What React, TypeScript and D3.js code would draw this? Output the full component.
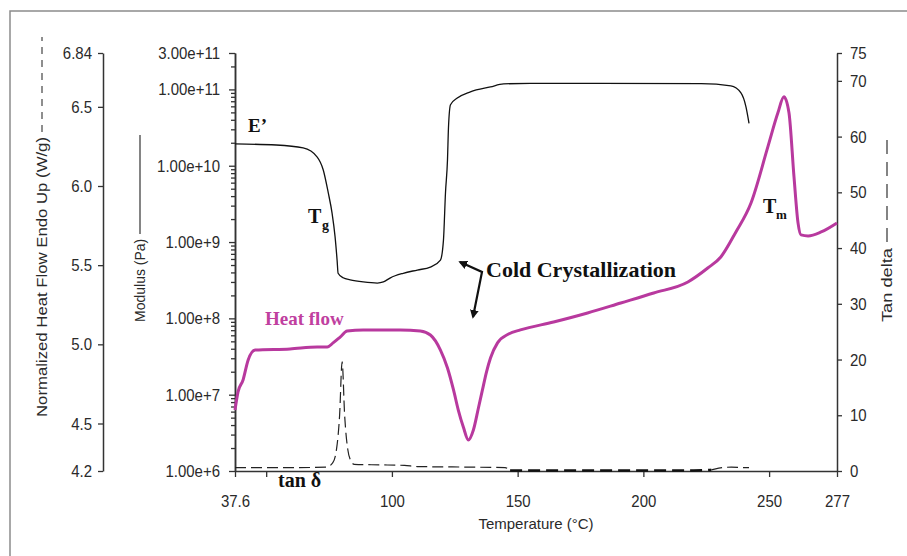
import React, { useEffect, useRef } from 'react';
import * as d3 from 'd3';

// storage modulus E' (Pa) vs temperature (°C)
const modTemp = [37.6, 54, 64.7, 70.3, 72.7, 74.7, 76.2, 77.4, 78.2, 78.6, 80.6, 83.4, 88.6, 94.2, 96.6, 99.4, 104.5, 110.1, 115.3, 119.3, 120.5, 121.3, 122.1, 122.5, 123.3, 126, 131.2, 139.2, 144.4, 155, 183, 223, 234.8, 238.8, 240.8, 242];
const modulus = [1.93e10, 1.87e10, 1.71e10, 1.3e10, 8.8e9, 4.4e9, 2.4e9, 1.17e9, 5.8e8, 3.9e8, 3.4e8, 3.2e8, 3.0e8, 2.9e8, 3.0e8, 3.4e8, 3.9e8, 4.3e8, 4.7e8, 5.8e8, 1.06e9, 4.4e9, 1.19e10, 3.2e10, 6.3e10, 7.7e10, 9.3e10, 1.08e11, 1.18e11, 1.2e11, 1.2e11, 1.19e11, 1.11e11, 9.0e10, 5.9e10, 3.6e10];

// normalized heat flow (W/g)
const heatTemp = [37.6, 38.8, 40.8, 42.8, 45.6, 59.5, 70.3, 74.3, 76.6, 79.4, 82.2, 88.6, 103.3, 111.3, 115.3, 119.3, 122.1, 124.5, 126.4, 128.4, 130.4, 132.4, 134.4, 136, 137.6, 139.2, 142, 146.4, 151.1, 164.3, 177.8, 191, 204.1, 217.7, 225.6, 230.8, 236.8, 242.8, 249.5, 253.5, 255.9, 257.9, 259.9, 261.5, 262.7, 265.5, 270.7, 277];
const heatFlow = [4.585, 4.7, 4.775, 4.9, 4.964, 4.971, 4.983, 4.983, 5.009, 5.046, 5.084, 5.091, 5.091, 5.084, 5.059, 4.964, 4.851, 4.712, 4.585, 4.478, 4.396, 4.459, 4.598, 4.712, 4.825, 4.914, 5.009, 5.065, 5.091, 5.141, 5.198, 5.261, 5.324, 5.394, 5.482, 5.552, 5.71, 5.893, 6.247, 6.462, 6.563, 6.462, 6.057, 5.767, 5.691, 5.685, 5.71, 5.767];

// tan delta
const tanTemp = [37.6, 60, 74, 76.5, 78, 79.2, 80.2, 81.2, 82.4, 83.5, 85, 95, 105, 110, 130, 145, 147, 160, 180, 200, 220, 227, 230, 235, 240, 242];
const tanDelta = [0.6, 0.6, 0.7, 1.5, 4, 10, 19.6, 10, 4, 2, 1.2, 1.1, 1.0, 0.8, 0.7, 0.6, 0.1, 0.1, 0.1, 0.1, 0.1, 0.2, 0.5, 0.7, 0.6, 0.6];

const xTicks = [37.6, 50, 100, 150, 200, 250, 277];
const heatTicks = [4.2, 4.5, 5.0, 5.5, 6.0, 6.5, 6.84];
const modMajor = [1e6, 1e7, 1e8, 1e9, 1e10, 1e11, 3e11];
const tanTicks = [0, 10, 20, 30, 40, 50, 60, 70, 75];

const sans = '"Liberation Sans", Arial, sans-serif';
const serif = '"Liberation Serif", "Times New Roman", serif';
const magenta = '#b8399e';

const App = () => {
  const chartRef = useRef(null);

  useEffect(() => {
    const width = 907, height = 556;
    const left = 235, right = 837, top = 53, bottom = 471;
    const svg = d3.select(chartRef.current);
    svg.selectAll('*').remove();
    svg.attr('width', width).attr('height', height);

    const x = d3.scaleLinear().domain([37.6, 277]).range([left, right]);
    const yMod = d3.scaleLog().domain([1e6, 3e11]).range([bottom, top]);
    const yHeat = d3.scaleLinear().domain([4.2, 6.84]).range([bottom, top]);
    const yTan = d3.scaleLinear().domain([0, 75]).range([bottom, top]);

    // frame (left + top only)
    svg.append('path')
      .attr('d', `M10,${height}V11H${width}`)
      .attr('fill', 'none').attr('stroke', '#8c8c8c').attr('stroke-width', 1.5);

    const styleAxis = (g) => {
      g.select('.domain').attr('stroke', '#333').attr('stroke-width', 1.5);
      g.selectAll('.tick line').attr('stroke', '#333').attr('stroke-width', 1.3);
      g.selectAll('text')
        .attr('font-family', sans).attr('font-size', 15).attr('fill', '#2a2a2a')
        .attr('transform', 'scale(1,1.15)');
    };

    // heat flow axis (far left)
    svg.append('g').attr('transform', 'translate(103,0)')
      .call(d3.axisLeft(yHeat).tickValues(heatTicks).tickSize(5).tickSizeOuter(0).tickPadding(6)
        .tickFormat(d => (d === 6.84 ? '6.84' : d.toFixed(1))))
      .call(styleAxis);

    // modulus axis, minor ticks then major
    const minor = [];
    for (let e = 6; e <= 11; e++) for (let k = 2; k <= 9; k++) if (k * 10 ** e < 3e11) minor.push(k * 10 ** e);
    svg.append('g').attr('transform', `translate(${left},0)`)
      .call(d3.axisLeft(yMod).tickValues(minor).tickSize(4).tickSizeOuter(0).tickFormat(() => ''))
      .call(styleAxis);
    svg.append('g').attr('transform', `translate(${left},0)`)
      .call(d3.axisLeft(yMod).tickValues(modMajor).tickSize(6).tickSizeOuter(0).tickPadding(9)
        .tickFormat(d => d.toExponential(2)))
      .call(styleAxis);

    // tan delta axis (right)
    svg.append('g').attr('transform', `translate(${right},0)`)
      .call(d3.axisRight(yTan).tickValues(tanTicks).tickSize(5).tickSizeOuter(0).tickPadding(8))
      .call(styleAxis);

    // temperature axis
    const gx = svg.append('g').attr('transform', `translate(0,${bottom})`)
      .call(d3.axisBottom(x).tickValues(xTicks).tickSize(6).tickSizeOuter(0)
        .tickFormat(d => (d === 50 ? '' : String(d))))
      .call(styleAxis);
    gx.selectAll('text').attr('y', 31).attr('dy', 0);

    // axis titles
    svg.append('text')
      .attr('transform', 'translate(47,417) rotate(-90)')
      .attr('font-family', sans).attr('font-size', 15).attr('fill', '#2a2a2a')
      .attr('textLength', 280).attr('lengthAdjust', 'spacingAndGlyphs')
      .text('Normalized Heat Flow Endo Up (W/g)');
    svg.append('line').attr('x1', 42).attr('x2', 42).attr('y1', 132).attr('y2', 37)
      .attr('stroke', '#444').attr('stroke-width', 1.2).attr('stroke-dasharray', '7,6');

    svg.append('text')
      .attr('transform', 'translate(145,322) rotate(-90)')
      .attr('font-family', sans).attr('font-size', 14).attr('fill', '#2a2a2a')
      .text('Modulus (Pa)');
    svg.append('line').attr('x1', 140).attr('x2', 140).attr('y1', 234).attr('y2', 135)
      .attr('stroke', '#333').attr('stroke-width', 1.2);

    svg.append('text')
      .attr('transform', 'translate(892,322) rotate(-90)')
      .attr('font-family', sans).attr('font-size', 15).attr('fill', '#2a2a2a')
      .attr('textLength', 74).attr('lengthAdjust', 'spacingAndGlyphs')
      .text('Tan delta');
    svg.append('line').attr('x1', 887).attr('x2', 887).attr('y1', 242).attr('y2', 140)
      .attr('stroke', '#333').attr('stroke-width', 1.2).attr('stroke-dasharray', '14,8');

    svg.append('text')
      .attr('x', (left + right) / 2).attr('y', 529)
      .attr('text-anchor', 'middle')
      .attr('font-family', sans).attr('font-size', 15).attr('fill', '#2a2a2a')
      .text('Temperature (°C)');

    // curves
    const modData = modTemp.map((t, i) => ({ t, v: modulus[i] }));
    const heatData = heatTemp.map((t, i) => ({ t, v: heatFlow[i] }));
    const tanData = tanTemp.map((t, i) => ({ t, v: tanDelta[i] }));

    const lineMod = d3.line().x(d => x(d.t)).y(d => yMod(d.v)).curve(d3.curveMonotoneX);
    const lineHeat = d3.line().x(d => x(d.t)).y(d => yHeat(d.v)).curve(d3.curveMonotoneX);
    const lineTan = d3.line().x(d => x(d.t)).y(d => yTan(d.v)).curve(d3.curveMonotoneX);

    svg.append('path').datum(tanData.filter(d => d.t <= 147))
      .attr('d', lineTan).attr('fill', 'none').attr('stroke', '#222')
      .attr('stroke-width', 1.2).attr('stroke-dasharray', '11,5');
    svg.append('path').datum(tanData.filter(d => d.t >= 147 && d.t <= 227))
      .attr('d', lineTan).attr('fill', 'none').attr('stroke', '#111')
      .attr('stroke-width', 2.6).attr('stroke-dasharray', '12,6');
    svg.append('path').datum(tanData.filter(d => d.t >= 227))
      .attr('d', lineTan).attr('fill', 'none').attr('stroke', '#222')
      .attr('stroke-width', 1.2).attr('stroke-dasharray', '11,5');

    svg.append('path').datum(modData)
      .attr('d', lineMod).attr('fill', 'none').attr('stroke', '#111').attr('stroke-width', 1.3);

    svg.append('path').datum(heatData)
      .attr('d', lineHeat).attr('fill', 'none').attr('stroke', magenta)
      .attr('stroke-width', 3).attr('stroke-linejoin', 'round');

    // annotations
    const label = (txt, px, py, size, fill = '#111') =>
      svg.append('text').attr('x', px).attr('y', py)
        .attr('font-family', serif).attr('font-weight', 'bold')
        .attr('font-size', size).attr('fill', fill).text(txt);

    label('E\u2019', 248, 132, 19);
    label('T', 308, 223, 20);
    label('g', 322, 230, 14);
    label('T', 763, 213, 20);
    label('m', 776, 219, 13);
    label('Cold Crystallization', 486, 277, 22);
    label('Heat flow', 265, 325, 19, '#c0409f');
    label('tan \u03b4', 278, 487, 20);

    // arrow pointing to E' jump and heat-flow dip
    svg.append('defs').append('marker')
      .attr('id', 'head').attr('viewBox', '0 0 10 10').attr('refX', 8).attr('refY', 5)
      .attr('markerWidth', 4).attr('markerHeight', 4).attr('orient', 'auto-start-reverse')
      .append('path').attr('d', 'M0,0L10,5L0,10Z').attr('fill', '#111');
    svg.append('path')
      .attr('d', 'M460,262L482,272L473,317')
      .attr('fill', 'none').attr('stroke', '#111').attr('stroke-width', 2.2)
      .attr('marker-start', 'url(#head)').attr('marker-end', 'url(#head)');
  }, []);

  return <svg ref={chartRef} style={{ position: 'absolute', left: 0, top: 0, background: '#fff' }}></svg>;
};

export default App;
